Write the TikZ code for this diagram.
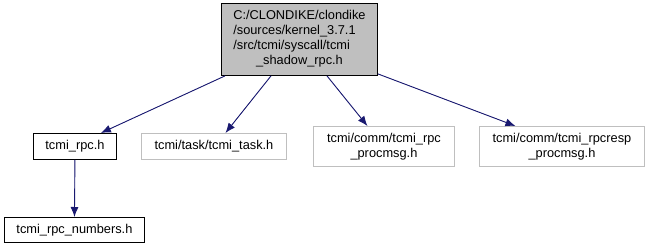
\documentclass[tikz,border=0pt]{standalone}
\usepackage{fontspec}
\setmainfont{Liberation Sans}
\usetikzlibrary{arrows.meta,calc}
\definecolor{edgeblue}{HTML}{191970}
\definecolor{boxgray}{HTML}{BFBFBF}
\definecolor{linegray}{HTML}{BFBFBF}
\begin{document}
\begin{tikzpicture}[x=1pt,y=-1pt,
  every node/.style={font=\fontsize{12.8}{15}\selectfont, inner sep=0pt, anchor=north west},
  filebox/.style={draw=black, line width=0.9pt, fill=white},
  extbox/.style={draw=linegray, line width=0.9pt, fill=white},
  topbox/.style={draw=black, line width=0.9pt, fill=boxgray},
  dep/.style={draw=edgeblue, line width=0.9pt, -{Latex[length=10pt,width=8pt]}, fill=edgeblue}]
  \useasboundingbox (0,0) rectangle (651,248);

  % root header
  \node[topbox, minimum width=156pt, minimum height=72pt] (top) at (221,3)
    {\begin{tabular}{@{}l@{}}C:/CLONDIKE/clondike\\ /sources/kernel\_3.7.1\\ /src/tcmi/syscall/tcmi\\ \multicolumn{1}{@{}c@{}}{\_shadow\_rpc.h}\end{tabular}};

  % included headers
  \node[filebox, minimum width=83pt, minimum height=26pt] (rpc) at (33,133) {tcmi\_rpc.h};
  \node[extbox, minimum width=145pt, minimum height=26pt] (task) at (141,133) {tcmi/task/tcmi\_task.h};
  \node[extbox, minimum width=141pt, minimum height=40pt, align=center] (proc) at (313,126)
    {tcmi/comm/tcmi\_rpc\\ \_procmsg.h};
  \node[extbox, minimum width=165pt, minimum height=40pt, align=center] (resp) at (479,126)
    {tcmi/comm/tcmi\_rpcresp\\ \_procmsg.h};
  \node[filebox, minimum width=140pt, minimum height=25pt] (num) at (4,217) {tcmi\_rpc\_numbers.h};

  % include edges
  \draw[dep] ($(top.south west)+(4,0)$) -- ($(rpc.north east)+(-16,0)$);
  \draw[dep] ($(top.south west)+(50,0)$) -- ($(task.north)+(11.5,0)$);
  \draw[dep] ($(top.south west)+(106,0)$) -- ($(proc.north)+(-16.5,0)$);
  \draw[dep] ($(top.south east)+(0,-2)$) -- ($(resp.north)+(-46.5,0)$);
  \draw[dep] (rpc.south) -- (num.north);
\end{tikzpicture}
\end{document}
